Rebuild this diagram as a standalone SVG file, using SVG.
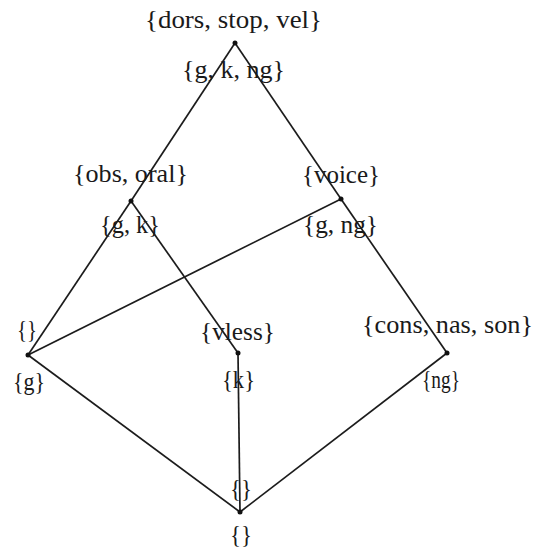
<svg xmlns="http://www.w3.org/2000/svg" width="536" height="548" viewBox="0 0 536 548">
<style>
.e{stroke:#1c1c1c;stroke-width:1.7;fill:none}
.d{fill:#111}
text{font-family:"Liberation Serif","Times New Roman",serif;font-size:26px;fill:#1a1a1a}
</style>
<rect width="536" height="548" fill="#fff"/>
<g id="connectors">
<line class="e" x1="235" y1="43" x2="131" y2="201"/>
<line class="e" x1="235" y1="43" x2="341" y2="199"/>
<line class="e" x1="341" y1="199" x2="447" y2="353"/>
<line class="e" x1="131" y1="201" x2="28" y2="355"/>
<line class="e" x1="131" y1="201" x2="238" y2="353"/>
<line class="e" x1="341" y1="199" x2="28" y2="355"/>
<line class="e" x1="28" y1="355" x2="240" y2="512"/>
<line class="e" x1="238" y1="353" x2="240" y2="512"/>
<line class="e" x1="447" y1="353" x2="240" y2="512"/>
</g>
<g id="n_top">
<circle class="d" cx="235" cy="43" r="2.5"/>
<text x="145" y="28" textLength="177" lengthAdjust="spacingAndGlyphs">{dors, stop, vel}</text>
<text x="182" y="78" textLength="103" lengthAdjust="spacingAndGlyphs">{g, k, ng}</text>
</g>
<g id="n_obs">
<circle class="d" cx="131" cy="201" r="2.5"/>
<text x="73" y="182" textLength="115" lengthAdjust="spacingAndGlyphs">{obs, oral}</text>
<text x="100" y="233" textLength="60" lengthAdjust="spacingAndGlyphs">{g, k}</text>
</g>
<g id="n_voice">
<circle class="d" cx="341" cy="199" r="2.5"/>
<text x="302" y="183" textLength="78" lengthAdjust="spacingAndGlyphs">{voice}</text>
<text x="303" y="233" textLength="75" lengthAdjust="spacingAndGlyphs">{g, ng}</text>
</g>
<g id="n_g">
<circle class="d" cx="28" cy="355" r="2.5"/>
<text x="17" y="338" textLength="20" lengthAdjust="spacingAndGlyphs">{}</text>
<text x="13" y="390" textLength="32" lengthAdjust="spacingAndGlyphs">{g}</text>
</g>
<g id="n_vless">
<circle class="d" cx="238" cy="353" r="2.5"/>
<text x="200" y="340" textLength="75" lengthAdjust="spacingAndGlyphs">{vless}</text>
<text x="222" y="388" textLength="33" lengthAdjust="spacingAndGlyphs">{k}</text>
</g>
<g id="n_cons">
<circle class="d" cx="447" cy="353" r="2.5"/>
<text x="362" y="333" textLength="171" lengthAdjust="spacingAndGlyphs">{cons, nas, son}</text>
<text x="422" y="388" textLength="38" lengthAdjust="spacingAndGlyphs">{ng}</text>
</g>
<g id="n_bottom">
<circle class="d" cx="240" cy="512" r="2.5"/>
<text x="230" y="497" textLength="22" lengthAdjust="spacingAndGlyphs">{}</text>
<text x="230" y="543" textLength="22" lengthAdjust="spacingAndGlyphs">{}</text>
</g>
</svg>
